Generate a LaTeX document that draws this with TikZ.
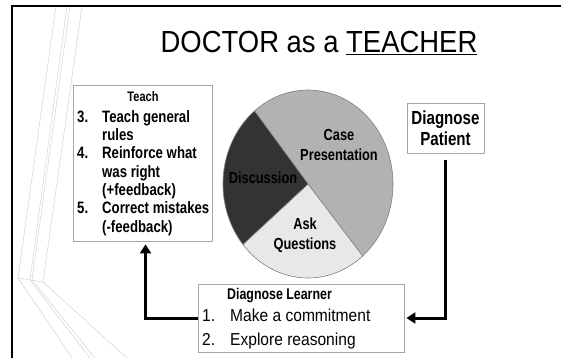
\documentclass[tikz,border=0pt]{standalone}
\usepackage{fontspec}
\setmainfont[FakeStretch=0.9]{Liberation Sans}
\newfontfamily\narrowsans[FakeStretch=0.8]{Liberation Sans}
\usetikzlibrary{arrows.meta}

\tikzset{
  box/.style={draw=gray!70, line width=0.8pt, fill=white, inner sep=0pt},
  flow/.style={line width=3pt, -{Triangle[length=9pt,width=11pt]}},
  deco/.style={draw=gray!40, line width=0.4pt},
  slice/.style={draw=gray, line width=0.6pt},
  pielbl/.style={align=center, inner sep=0pt, font=\narrowsans\bfseries\fontsize{16}{20}\selectfont},
}

\begin{document}
\begin{tikzpicture}[x=1pt,y=-1pt]
\useasboundingbox (0,0) rectangle (561,358);
\fill[white] (0,0) rectangle (561,358);     %白色底
\draw[deco] (56,6) -- (18,278) -- (72,358);     %左侧装饰细线
\draw[deco] (67,6) -- (30,280) -- (90,358);
\draw[deco] (70,6) -- (32,280) -- (95,358);
\draw[deco] (82,6) -- (43,282) -- (127,358);
\draw[deco] (18,278) -- (43,282);
\draw[line width=2.3pt] (561,6) -- (12,6) -- (12,358);     %上边和左边的粗框线

\node[anchor=base] (title) at (319,53) {\fontsize{30.5}{36}\selectfont DOCTOR as a \underline{TEACHER}};     %标题

\coordinate (o) at (308,184);     %饼图中心,半径为85和94
\filldraw[slice, fill=gray!60] (o) -- ++(-129:85 and 94) arc[start angle=-129, end angle=50, x radius=85, y radius=94] -- cycle;
\filldraw[slice, fill=black!9] (o) -- ++(50:85 and 94) arc[start angle=50, end angle=140, x radius=85, y radius=94] -- cycle;
\filldraw[slice, fill=black!80] (o) -- ++(140:85 and 94) arc[start angle=140, end angle=231, x radius=85, y radius=94] -- cycle;
\node[pielbl] (case) at (339,145) {Case\\Presentation};
\node[pielbl] (disc) at (263,178) {Discussion};
\node[pielbl] (ask) at (305,235) {Ask\\Questions};

\node[box, minimum width=139pt, minimum height=156pt] (teach) at (142.5,163) {};     %左边的方框
\node[anchor=base, inner sep=0pt, font=\narrowsans\bfseries\fontsize{13.8}{16}\selectfont] (teachhead) at (143,101.5) {Teach};
\node[anchor=base west, align=left, inner sep=0pt, font=\narrowsans\bfseries\fontsize{16.5}{18.3}\selectfont] (teachlist) at (77,232) {\makebox[25pt][l]{3.}Teach general\\
\hspace*{25pt}rules\\
\makebox[25pt][l]{4.}Reinforce what\\
\hspace*{25pt}was right\\
\hspace*{25pt}(+feedback)\\
\makebox[25pt][l]{5.}Correct mistakes\\
\hspace*{25pt}(-feedback)};

\node[box, minimum width=77pt, minimum height=50pt, align=center, font=\narrowsans\bfseries\fontsize{18.9}{21}\selectfont] (pat) at (445.5,128) {Diagnose\\Patient};     %右边的方框

\node[box, minimum width=206pt, minimum height=68pt] (learn) at (301,318) {};     %下边的方框
\node[anchor=base, inner sep=0pt, font=\narrowsans\bfseries\fontsize{15.5}{18}\selectfont] (learnhead) at (279.5,299) {Diagnose Learner};
\node[anchor=base west, align=left, inner sep=0pt, font=\fontsize{17.3}{24}\selectfont] (learnlist) at (202,345.7) {\makebox[28pt][l]{1.}Make a commitment\\
\makebox[28pt][l]{2.}Explore reasoning};

\draw[flow, shorten >=3pt] (learn.west) -| ([xshift=3pt]teach.south);     %两个粗箭头
\draw[flow, shorten <=7pt, shorten >=2pt] (pat.south) |- (learn.east);
\end{tikzpicture}
\end{document}
